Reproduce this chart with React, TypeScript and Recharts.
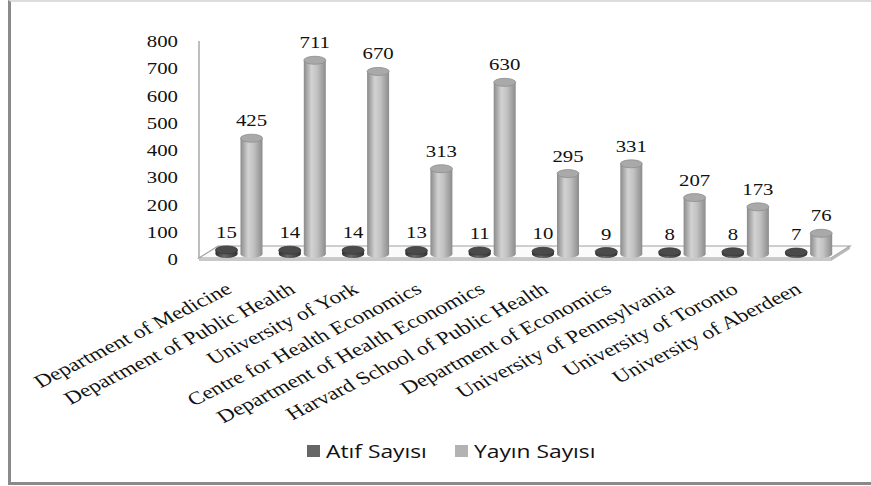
import React from 'react';
import {
  BarChart,
  Bar,
  XAxis,
  YAxis,
  LabelList,
  Customized,
} from 'recharts';

// institutions on the x axis
const institutions: string[] = [
  'Department of Medicine',
  'Department of Public Health',
  'University of York',
  'Centre for Health Economics',
  'Department of Health Economics',
  'Harvard School of Public Health',
  'Department of Economics',
  'University of Pennsylvania',
  'University of Toronto',
  'University of Aberdeen',
];

const atifSayisi: number[] = [15, 14, 14, 13, 11, 10, 9, 8, 8, 7];
const yayinSayisi: number[] = [425, 711, 670, 313, 630, 295, 331, 207, 173, 76];

const yTicks: number[] = [0, 100, 200, 300, 400, 500, 600, 700, 800];

const data = institutions.map((name, i) => ({
  name,
  atif: atifSayisi[i],
  yayin: yayinSayisi[i],
}));

const series = [
  { label: 'Atıf Sayısı', color: '#666666', width: 148 },
  { label: 'Yayın Sayısı', color: '#b3b3b3', width: 150 },
];

const SERIF = '"Liberation Serif", "Times New Roman", serif';
const STRETCH = 1.3;

const Cylinder = (props: any) => {
  const { x, y, width, height, dark } = props;
  const rx = width / 2;
  const ry = 4;
  const cx = x + rx;
  const grad = dark ? 'cylDark' : 'cylLight';
  return (
    <g>
      <ellipse cx={cx} cy={y + height} rx={rx} ry={ry} fill={`url(#${grad})`} />
      <rect x={x} y={y} width={width} height={height} fill={`url(#${grad})`} />
      <ellipse
        cx={cx}
        cy={y}
        rx={rx}
        ry={ry}
        fill={dark ? '#4a4a4a' : '#a9a9a9'}
        stroke={dark ? '#3a3a3a' : '#8e8e8e'}
        strokeWidth={0.8}
      />
    </g>
  );
};

const ValueLabel = (props: any) => {
  const { x, y, width, value } = props;
  return (
    <text
      transform={`translate(${x + width / 2}, ${y - 12}) scale(${STRETCH},1)`}
      textAnchor="middle"
      fontFamily={SERIF}
      fontSize={16}
      fill="#111"
    >
      {value}
    </text>
  );
};

const YTick = (props: any) => {
  const { y, payload } = props;
  return (
    <text
      transform={`translate(178, ${y + 11}) scale(${STRETCH},1)`}
      textAnchor="end"
      fontFamily={SERIF}
      fontSize={16}
      fill="#111"
    >
      {payload.value}
    </text>
  );
};

const XTick = (props: any) => {
  const { x, payload } = props;
  return (
    <text
      transform={`translate(${x - 6}, 292) scale(${STRETCH},1) rotate(-33)`}
      textAnchor="end"
      fontFamily={SERIF}
      fontSize={18}
      fill="#111"
    >
      {payload.value}
    </text>
  );
};

// 3D floor and wall edge, as in the Excel chart
const Floor = () => (
  <g>
    <defs>
      <linearGradient id="cylLight" x1="0" y1="0" x2="1" y2="0">
        <stop offset="0%" stopColor="#8a8a8a" />
        <stop offset="35%" stopColor="#d2d2d2" />
        <stop offset="60%" stopColor="#c2c2c2" />
        <stop offset="100%" stopColor="#8c8c8c" />
      </linearGradient>
      <linearGradient id="cylDark" x1="0" y1="0" x2="1" y2="0">
        <stop offset="0%" stopColor="#2e2e2e" />
        <stop offset="40%" stopColor="#6a6a6a" />
        <stop offset="100%" stopColor="#303030" />
      </linearGradient>
    </defs>
    <line x1={199} y1={41} x2={199} y2={259} stroke="#a8a8a8" strokeWidth={1.5} />
    <polygon
      points="199,258 218,246 850,246 831,258"
      fill="#fbfbfb"
      stroke="#a0a0a0"
      strokeWidth={1.2}
    />
    <polygon points="199,258 831,258 831,261 199,261" fill="#c8c8c8" />
    <polygon points="831,258 850,246 850,249 831,261" fill="#b8b8b8" />
  </g>
);

const LegendBox = () => (
  <div
    style={{
      position: 'absolute',
      left: 307,
      top: 438,
      display: 'flex',
      fontFamily: '"Open Sans", "Noto Sans", sans-serif',
      fontSize: 19,
      lineHeight: '26px',
      color: '#111',
    }}
  >
    {series.map((it) => (
      <div
        key={it.label}
        style={{ display: 'flex', alignItems: 'center', width: it.width }}
      >
        <span
          style={{ width: 13, height: 12, background: it.color, marginRight: 6 }}
        />
        <span
          style={{
            display: 'inline-block',
            transform: 'scaleX(1.2)',
            transformOrigin: 'left',
            whiteSpace: 'nowrap',
          }}
        >
          {it.label}
        </span>
      </div>
    ))}
  </div>
);

export default function App() {
  return (
    <div
      style={{
        position: 'absolute',
        left: 0,
        top: 0,
        width: 871,
        height: 486,
        background: '#fff',
        overflow: 'hidden',
      }}
    >
      <div
        style={{
          position: 'absolute',
          left: 8,
          top: 0,
          width: 900,
          height: 485,
          borderTop: '2px solid #dcdcdc',
          borderLeft: '3px solid #8a8a8a',
          borderBottom: '3px solid #8a8a8a',
          boxSizing: 'border-box',
        }}
      />
      <div style={{ position: 'absolute', left: 0, top: 0 }}>
        <BarChart
          width={871}
          height={486}
          data={data}
          margin={{ top: 36, right: 30.5, left: 147.5, bottom: 202 }}
          barSize={22}
          barGap={3}
          barCategoryGap={8}
        >
          <Customized component={<Floor />} />
          <XAxis
            dataKey="name"
            height={30}
            interval={0}
            axisLine={false}
            tickLine={false}
            tick={<XTick />}
          />
          <YAxis
            width={60}
            domain={[0, 800]}
            ticks={yTicks}
            axisLine={false}
            tickLine={false}
            tick={<YTick />}
          />
          <Bar
            dataKey="atif"
            name={series[0].label}
            fill={series[0].color}
            isAnimationActive={false}
            shape={<Cylinder dark />}
          >
            <LabelList dataKey="atif" content={<ValueLabel />} />
          </Bar>
          <Bar
            dataKey="yayin"
            name={series[1].label}
            fill={series[1].color}
            isAnimationActive={false}
            shape={<Cylinder />}
          >
            <LabelList dataKey="yayin" content={<ValueLabel />} />
          </Bar>
        </BarChart>
      </div>
      <LegendBox />
    </div>
  );
}
